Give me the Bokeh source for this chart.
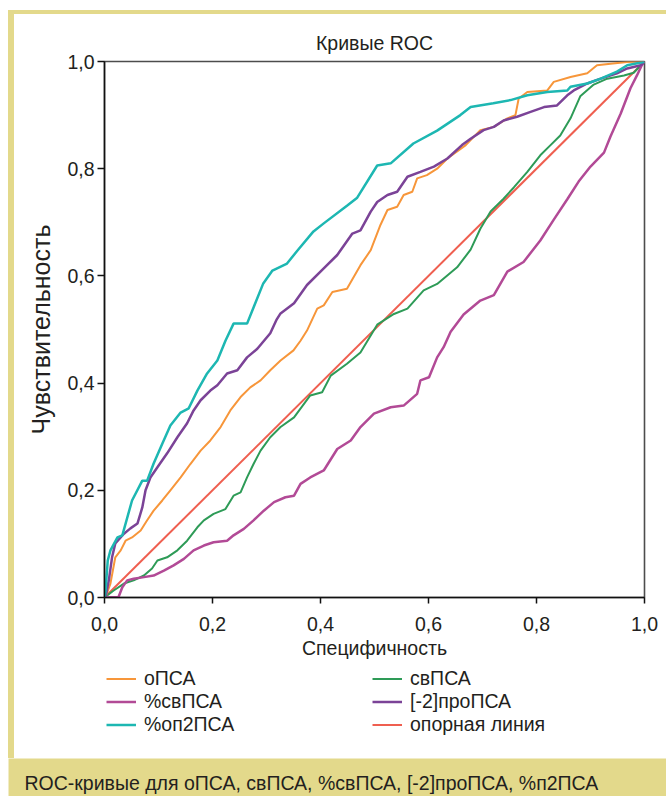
from bokeh.plotting import figure
from bokeh.layouts import column, row
from bokeh.models import Legend, LegendItem, FixedTicker, Range1d, Label, Div
from bokeh.embed import file_html
from bokeh.resources import INLINE
from bokeh.core.validation import silence
from bokeh.core.validation.warnings import MISSING_RENDERERS

silence(MISSING_RENDERERS, True)

# ---------------- data ----------------
title_text = "Кривые ROC"
x_label = "Специфичность"
y_label = "Чувствительность"
caption_text = "ROC-кривые для оПСА, свПСА, %свПСА, [-2]проПСА, %п2ПСА"

tick_vals = [0.0, 0.2, 0.4, 0.6, 0.8, 1.0]
tick_labels = ["0,0", "0,2", "0,4", "0,6", "0,8", "1,0"]

names = ["оПСА", "свПСА", "%свПСА", "[-2]проПСА", "%оп2ПСА", "опорная линия"]

x_opsa = [0, 0.002, 0.011, 0.020, 0.030, 0.039, 0.051, 0.067, 0.079, 0.091, 0.107, 0.122, 0.141, 0.159,
          0.178, 0.196, 0.215, 0.233, 0.252, 0.270, 0.289, 0.307, 0.326, 0.350, 0.363, 0.375, 0.394,
          0.406, 0.422, 0.449, 0.474, 0.493, 0.511, 0.524, 0.542, 0.554, 0.570, 0.579, 0.597, 0.616,
          0.635, 0.669, 0.696, 0.721, 0.746, 0.761, 0.767, 0.783, 0.820, 0.832, 0.863, 0.894, 0.912,
          0.937, 0.968, 1.0]
y_opsa = [0, 0.001, 0.026, 0.075, 0.088, 0.106, 0.112, 0.125, 0.144, 0.162, 0.181, 0.200, 0.224, 0.249,
          0.274, 0.293, 0.318, 0.349, 0.374, 0.392, 0.405, 0.424, 0.442, 0.461, 0.479, 0.498, 0.539,
          0.545, 0.570, 0.576, 0.620, 0.648, 0.695, 0.723, 0.729, 0.751, 0.757, 0.782, 0.788, 0.800,
          0.819, 0.844, 0.872, 0.878, 0.894, 0.900, 0.931, 0.943, 0.946, 0.962, 0.971, 0.978, 0.993,
          0.996, 0.999, 1.0]

x_svpsa = [0, 0.017, 0.036, 0.054, 0.073, 0.088, 0.098, 0.116, 0.135, 0.153, 0.172, 0.184, 0.202, 0.224,
           0.239, 0.252, 0.264, 0.276, 0.289, 0.307, 0.326, 0.351, 0.381, 0.403, 0.419, 0.449, 0.474,
           0.505, 0.536, 0.561, 0.591, 0.616, 0.653, 0.678, 0.696, 0.715, 0.739, 0.758, 0.783, 0.807,
           0.826, 0.844, 0.863, 0.881, 0.906, 0.931, 0.962, 0.980, 1.0]
y_svpsa = [0, 0.013, 0.026, 0.032, 0.041, 0.054, 0.069, 0.075, 0.088, 0.106, 0.131, 0.144, 0.156, 0.165,
           0.190, 0.196, 0.224, 0.249, 0.274, 0.299, 0.318, 0.336, 0.377, 0.383, 0.414, 0.436, 0.457,
           0.509, 0.529, 0.539, 0.573, 0.585, 0.616, 0.649, 0.688, 0.720, 0.744, 0.765, 0.794, 0.825,
           0.844, 0.862, 0.894, 0.935, 0.957, 0.968, 0.974, 0.979, 1.0]

x_pct_sv = [0, 0.026, 0.033, 0.042, 0.054, 0.073, 0.091, 0.110, 0.128, 0.147, 0.165, 0.184, 0.202, 0.227,
            0.239, 0.258, 0.276, 0.295, 0.314, 0.335, 0.351, 0.363, 0.381, 0.406, 0.431, 0.456, 0.474,
            0.499, 0.530, 0.554, 0.579, 0.585, 0.601, 0.616, 0.628, 0.641, 0.665, 0.696, 0.721, 0.746,
            0.776, 0.807, 0.832, 0.857, 0.878, 0.900, 0.925, 0.937, 0.956, 0.974, 0.986, 0.995, 1.0]
y_pct_sv = [0, 0.001, 0.019, 0.032, 0.035, 0.038, 0.041, 0.050, 0.060, 0.072, 0.088, 0.097, 0.103, 0.106,
            0.116, 0.128, 0.144, 0.162, 0.178, 0.187, 0.190, 0.212, 0.224, 0.237, 0.277, 0.293, 0.318,
            0.343, 0.355, 0.358, 0.380, 0.405, 0.411, 0.448, 0.467, 0.496, 0.528, 0.554, 0.564, 0.608,
            0.626, 0.666, 0.705, 0.743, 0.776, 0.804, 0.830, 0.860, 0.903, 0.950, 0.974, 0.993, 1.0]

x_pro = [0, 0.002, 0.008, 0.014, 0.020, 0.036, 0.048, 0.061, 0.070, 0.076, 0.085, 0.098, 0.116, 0.135,
         0.153, 0.165, 0.178, 0.196, 0.209, 0.227, 0.246, 0.264, 0.283, 0.307, 0.319, 0.326, 0.351,
         0.375, 0.406, 0.431, 0.459, 0.474, 0.493, 0.505, 0.524, 0.542, 0.561, 0.585, 0.610, 0.635,
         0.662, 0.678, 0.702, 0.721, 0.739, 0.764, 0.789, 0.814, 0.838, 0.857, 0.869, 0.894, 0.919,
         0.949, 0.968, 0.993, 1.0]
y_pro = [0, 0.001, 0.032, 0.075, 0.101, 0.119, 0.129, 0.138, 0.168, 0.200, 0.224, 0.243, 0.269, 0.299,
         0.325, 0.349, 0.368, 0.386, 0.396, 0.418, 0.424, 0.448, 0.464, 0.493, 0.519, 0.530, 0.549,
         0.583, 0.614, 0.639, 0.679, 0.685, 0.720, 0.738, 0.751, 0.757, 0.785, 0.794, 0.804, 0.819,
         0.844, 0.856, 0.872, 0.878, 0.890, 0.897, 0.906, 0.915, 0.918, 0.937, 0.946, 0.959, 0.968,
         0.978, 0.987, 0.993, 1.0]

x_op2 = [0, 0.002, 0.006, 0.011, 0.024, 0.033, 0.051, 0.070, 0.079, 0.091, 0.107, 0.122, 0.141, 0.156,
         0.172, 0.190, 0.209, 0.224, 0.239, 0.264, 0.276, 0.294, 0.311, 0.338, 0.357, 0.387, 0.406,
         0.449, 0.468, 0.505, 0.530, 0.572, 0.616, 0.659, 0.678, 0.720, 0.752, 0.783, 0.820, 0.857,
         0.863, 0.894, 0.919, 0.949, 0.968, 0.998, 1.0]
y_op2 = [0, 0.013, 0.069, 0.088, 0.112, 0.116, 0.181, 0.218, 0.218, 0.250, 0.287, 0.321, 0.345, 0.353,
         0.386, 0.418, 0.442, 0.479, 0.511, 0.511, 0.541, 0.586, 0.610, 0.623, 0.647, 0.683, 0.698,
         0.731, 0.746, 0.806, 0.810, 0.847, 0.871, 0.900, 0.915, 0.922, 0.928, 0.937, 0.943, 0.946,
         0.953, 0.959, 0.968, 0.981, 0.993, 0.999, 1.0]

x_ref = [0.0, 1.0]
y_ref = [0.0, 1.0]

# ---------------- style ----------------
FONT = "Liberation Sans"
FS = "19.5px"
TXT = "#231F20"
YEL = "#E3D98B"
styles_by_series = {
    "оПСА": dict(line_color="#F7963A", line_width=2),
    "свПСА": dict(line_color="#2E9B57", line_width=2),
    "%свПСА": dict(line_color="#B24A96", line_width=2.5),
    "[-2]проПСА": dict(line_color="#7B4397", line_width=2.5),
    "%оп2ПСА": dict(line_color="#1DB7B2", line_width=2.5),
    "опорная линия": dict(line_color="#EF5F50", line_width=2),
}

series = [
    ("опорная линия", x_ref, y_ref),
    ("свПСА", x_svpsa, y_svpsa),
    ("оПСА", x_opsa, y_opsa),
    ("%свПСА", x_pct_sv, y_pct_sv),
    ("[-2]проПСА", x_pro, y_pro),
    ("%оп2ПСА", x_op2, y_op2),
]

# ---------------- main plot ----------------
MAIN_W, P_H, LEG_H = 652, 650, 94
p = figure(width=MAIN_W, height=P_H, output_backend="svg", toolbar_location=None,
           x_range=Range1d(0, 1), y_range=Range1d(0, 1),
           min_border_left=90, min_border_right=22, min_border_top=47, min_border_bottom=67,
           title=title_text)
p.background_fill_color = "white"
p.border_fill_color = "white"
p.outline_line_color = "#4D4D4D"
p.outline_line_width = 1.6
p.grid.visible = False

p.title.align = "center"
p.title.text_font = FONT
p.title.text_font_size = FS
p.title.text_font_style = "normal"
p.title.text_color = TXT
p.title.standoff = 15

for ax in (p.xaxis[0], p.yaxis[0]):
    ax.ticker = FixedTicker(ticks=tick_vals)
    ax.major_label_overrides = dict(zip(tick_vals, tick_labels))
    ax.minor_tick_line_color = None
    ax.major_tick_in = 0
    ax.axis_line_color = "#111111"
    ax.axis_line_width = 1.5
    ax.major_tick_line_color = "#111111"
    ax.major_tick_line_width = 1.5
    ax.major_label_text_font = FONT
    ax.major_label_text_font_size = FS
    ax.major_label_text_color = TXT
    ax.axis_label_text_font = FONT
    ax.axis_label_text_font_size = FS
    ax.axis_label_text_font_style = "normal"
    ax.axis_label_text_color = TXT

p.xaxis.axis_label = x_label
p.yaxis.axis_label = y_label
p.yaxis.axis_label_text_font_size = "25px"
p.xaxis.major_tick_out = 6
p.xaxis.major_label_standoff = 13
p.xaxis.axis_label_standoff = 3
p.yaxis.major_tick_out = 7
p.yaxis.major_label_standoff = 3
p.yaxis.axis_label_standoff = 9

for name, xs, ys in series:
    p.line(xs, ys, **styles_by_series[name])

# ---------------- legend strip (below the plot, same frame width) ----------------
# the series are re-plotted here only to provide legend swatches; the view range
# is placed away from the data so nothing but the legend shows in this strip
leg = figure(width=MAIN_W, height=LEG_H, output_backend="svg", toolbar_location=None,
             x_axis_type=None, y_axis_type=None, x_range=Range1d(5, 6), y_range=Range1d(5, 6),
             min_border_left=90, min_border_right=22, min_border_top=0, min_border_bottom=0)
leg.background_fill_color = "white"
leg.border_fill_color = "white"
leg.outline_line_color = None
leg.grid.visible = False
swatch = {name: leg.line(xs, ys, **styles_by_series[name]) for name, xs, ys in series}


def make_legend(labels, loc):
    return Legend(items=[LegendItem(label=n, renderers=[swatch[n]]) for n in labels],
                  location=loc, orientation="vertical", padding=0, margin=0, spacing=0,
                  glyph_width=30, glyph_height=23, label_height=23, label_standoff=8,
                  label_text_font=FONT, label_text_font_size=FS, label_text_color=TXT,
                  border_line_color=None, background_fill_alpha=0)


leg.add_layout(make_legend([names[0], names[2], names[4]], (2, 22)))
leg.add_layout(make_legend([names[1], names[3], names[5]], (268, 22)))

# ---------------- caption band ----------------
CAP_W, CAP_H = 658, 38
cap = figure(width=CAP_W, height=CAP_H, output_backend="svg", toolbar_location=None,
             x_axis_type=None, y_axis_type=None, min_border=0,
             x_range=Range1d(0, CAP_W), y_range=Range1d(0, CAP_H))
cap.background_fill_color = YEL
cap.border_fill_color = YEL
cap.outline_line_color = None
cap.grid.visible = False
cap.add_layout(Label(x=16, y=14, x_units="screen", y_units="screen", text=caption_text,
                     text_font=FONT, text_font_size=FS, text_color=TXT,
                     text_baseline="middle", text_align="left"))

# ---------------- frame pieces (plain blocks) ----------------
top_bar = Div(text="", width=666, height=14, margin=0,
              styles={"background": f"linear-gradient(to right, white 8px, transparent 8px), "
                                    f"linear-gradient(to bottom, white 10px, {YEL} 10px)"})
left_bar = Div(text="", width=14, height=P_H + LEG_H, margin=0,
               styles={"background": f"linear-gradient(to right, white 8px, {YEL} 8px)"})
cap_pad = Div(text="", width=8, height=CAP_H, margin=0, styles={"background": "white"})

layout = column(top_bar, row(left_bar, column(p, leg)), row(cap_pad, cap))

open("out.html", "w").write(file_html(layout, INLINE))
